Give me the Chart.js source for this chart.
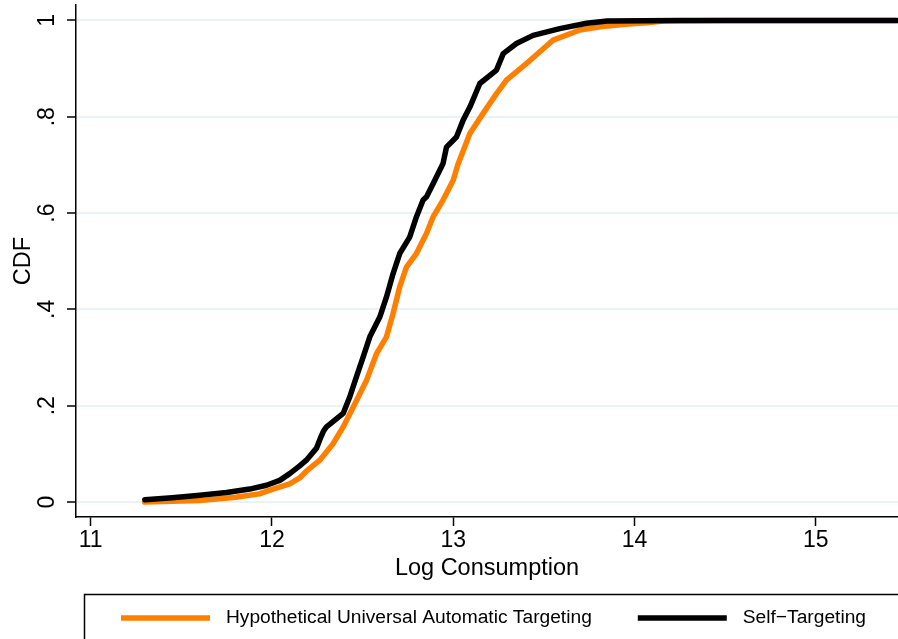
<!DOCTYPE html>
<html>
<head>
<meta charset="utf-8">
<script src="https://cdn.jsdelivr.net/npm/chart.js@4.4.1/dist/chart.umd.min.js"></script>
<style>
  html, body { margin: 0; padding: 0; background: #fff; }
  #wrap { width: 898px; height: 639px; }
</style>
</head>
<body>
<div id="wrap"><canvas id="cdf"></canvas></div>
<script>
// log consumption / CDF
const autoX = [11.298, 11.60, 11.80, 11.93, 12.006, 12.098, 12.153, 12.19, 12.264, 12.337, 12.393, 12.448,
  12.522, 12.577, 12.632, 12.668, 12.705, 12.742, 12.797, 12.853, 12.889, 12.944, 13.000, 13.025, 13.092,
  13.165, 13.239, 13.294, 13.405, 13.478, 13.551, 13.699, 13.81, 13.95, 14.067, 14.16, 14.5, 15.446];
const autoY = [0.000, 0.003, 0.010, 0.017, 0.027, 0.038, 0.050, 0.064, 0.087, 0.121, 0.156, 0.197,
  0.253, 0.308, 0.343, 0.391, 0.447, 0.488, 0.516, 0.558, 0.592, 0.627, 0.668, 0.700, 0.765,
  0.807, 0.848, 0.876, 0.911, 0.935, 0.959, 0.980, 0.987, 0.992, 0.995, 0.999, 1, 1];

const selfX = [11.298, 11.45, 11.602, 11.75, 11.877, 11.97, 12.043, 12.098, 12.153, 12.19, 12.246, 12.27,
  12.285, 12.301, 12.393, 12.429, 12.466, 12.503, 12.540, 12.595, 12.632, 12.668, 12.705, 12.760, 12.797,
  12.834, 12.853, 12.889, 12.944, 12.963, 13.018, 13.055, 13.092, 13.147, 13.239, 13.276, 13.349, 13.441,
  13.588, 13.736, 13.85, 14.25, 15.446];
const selfY = [0.005, 0.009, 0.014, 0.020, 0.027, 0.035, 0.045, 0.059, 0.075, 0.087, 0.112, 0.135,
  0.148, 0.156, 0.184, 0.218, 0.260, 0.301, 0.343, 0.384, 0.426, 0.474, 0.516, 0.550, 0.592,
  0.627, 0.634, 0.661, 0.703, 0.737, 0.758, 0.793, 0.820, 0.869, 0.897, 0.931, 0.952, 0.969,
  0.983, 0.994, 0.999, 1, 1];

const seriesNames = ["Hypothetical Universal Automatic Targeting", "Self\u2212Targeting"];
const yTickText = { 0: "0", 0.2: ".2", 0.4: ".4", 0.6: ".6", 0.8: ".8", 1: "1" };

const FONT = "'Liberation Sans', Arial, Helvetica, sans-serif";

function pairs(xs, ys) {
  return xs.map((x, i) => ({ x: x, y: ys[i] }));
}

// boxed legend at the bottom, Stata style
const boxLegend = {
  id: "boxLegend",
  afterDraw(chart) {
    const ctx = chart.ctx;
    ctx.save();
    ctx.strokeStyle = "#000";
    ctx.lineWidth = 1.5;
    ctx.strokeRect(84.5, 594.5, 840, 80);

    ctx.font = "19.2px " + FONT;
    ctx.textBaseline = "middle";
    ctx.fillStyle = "#000";
    const y = 618;
    let x = 121;
    chart.data.datasets.forEach((ds) => {
      ctx.strokeStyle = ds.borderColor;
      ctx.lineWidth = 5.5;
      ctx.lineCap = "butt";
      ctx.beginPath();
      ctx.moveTo(x, y);
      ctx.lineTo(x + 89, y);
      ctx.stroke();
      x += 89 + 16;
      ctx.fillText(ds.label, x, y);
      x += ctx.measureText(ds.label).width + 46;
    });
    ctx.restore();
  }
};

new Chart(document.getElementById("cdf"), {
  type: "line",
  data: {
    datasets: [
      {
        label: seriesNames[0],
        data: pairs(autoX, autoY),
        borderColor: "#ff7f00",
        borderWidth: 5.5,
        order: 1
      },
      {
        label: seriesNames[1],
        data: pairs(selfX, selfY),
        borderColor: "#000000",
        borderWidth: 5.5,
        order: 0
      }
    ]
  },
  options: {
    responsive: true,
    maintainAspectRatio: false,
    animation: false,
    layout: { padding: { top: 5, right: 0, left: 0, bottom: 49 } },
    elements: {
      point: { radius: 0 },
      line: { tension: 0, borderCapStyle: "round", borderJoinStyle: "round" }
    },
    plugins: {
      legend: { display: false },
      tooltip: { enabled: false }
    },
    scales: {
      x: {
        type: "linear",
        min: 10.919,
        max: 15.454,
        afterFit(scale) {
          scale.height = 73;
          scale.paddingLeft = 0;
          scale.paddingRight = 0;
        },
        border: { color: "#000", width: 1.5 },
        grid: { drawOnChartArea: false, drawTicks: true, tickLength: 9, tickColor: "#000", tickWidth: 1.5 },
        ticks: {
          stepSize: 1,
          includeBounds: false,
          color: "#000",
          padding: 1,
          font: { family: FONT, size: 23 },
          maxRotation: 0
        },
        title: {
          display: true,
          text: "Log Consumption",
          color: "#000",
          font: { family: FONT, size: 23.5 },
          padding: { top: 0, bottom: 7 }
        }
      },
      y: {
        min: -0.031,
        max: 1.032,
        afterFit(scale) {
          scale.width = 76;
          scale.paddingTop = 0;
          scale.paddingBottom = 0;
        },
        border: { color: "#000", width: 1.5 },
        grid: { color: "#eaf2f3", lineWidth: 2, tickLength: 9, tickColor: "#000", tickWidth: 1.5 },
        ticks: {
          stepSize: 0.2,
          includeBounds: false,
          color: "#000",
          padding: 10,
          minRotation: 90,
          maxRotation: 90,
          crossAlign: "center",
          font: { family: FONT, size: 23 },
          callback: (v) => yTickText[Math.round(v * 10) / 10]
        },
        title: {
          display: true,
          text: "CDF",
          color: "#000",
          font: { family: FONT, size: 23.5 },
          padding: { top: 9, bottom: 0 }
        }
      }
    }
  },
  plugins: [boxLegend]
});
</script>
</body>
</html>
